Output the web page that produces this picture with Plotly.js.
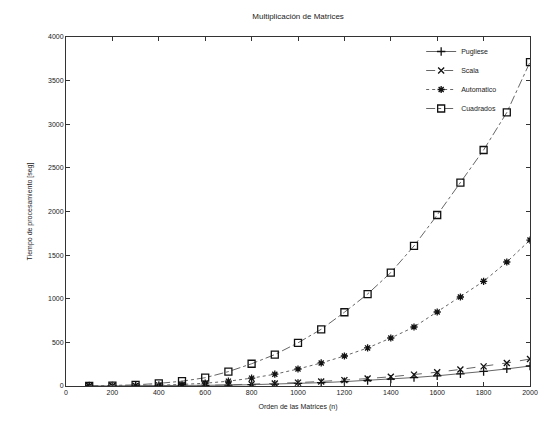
<!DOCTYPE html>
<html>
<head>
<meta charset="utf-8">
<script src="https://cdn.plot.ly/plotly-3.0.1.min.js"></script>
<style>html,body{margin:0;padding:0;background:#fff;}#chart{width:541px;height:421px;}</style>
</head>
<body>
<div id="chart"></div>
<script>
const orden = [100,200,300,400,500,600,700,800,900,1000,1100,1200,1300,1400,1500,1600,1700,1800,1900,2000];
const pugliese = [0.03,0.2,0.8,1.9,3.7,6,10,15,21,29,38,50,63,79,97,117,140,167,196,229];
const scala = [0.04,0.3,1,2.5,5,8,13,20,28,39,52,67,85,106,130,158,190,225,264,309];
const automatico = [0.2,1.5,4,10,18,32,55,90,135,195,264,344,436,550,676,848,1020,1200,1421,1673];
const cuadrados = [0.5,4,13,30,55,95,165,255,360,495,650,845,1054,1300,1605,1960,2330,2705,3135,3713];
const nombres = ["Pugliese","Scala","Automatico","Cuadrados"];
const xTicks = [0,200,400,600,800,1000,1200,1400,1600,1800,2000];
const yTicks = [0,500,1000,1500,2000,2500,3000,3500,4000];

const series = [pugliese, scala, automatico, cuadrados];
const symbols = ["cross-thin-open","x-thin-open","asterisk-open","square-open"];
const dashes = ["solid","dash","dot","dashdot"];
const traces = series.map((ys,i)=>({
  x: orden, y: ys, name: nombres[i], type:"scatter", mode:"lines+markers",
  line:{color:"#666", width:1, dash:dashes[i]},
  marker:{symbol:symbols[i], size:i===3?7:6, color:"#111", line:{color:"#111", width:1.3}}
}));

const fnt = {family:"Liberation Sans, Arial, sans-serif", size:7, color:"#222"};
const layout = {
  width:541, height:421,
  margin:{l:66, r:11, t:37, b:35},
  paper_bgcolor:"#fff", plot_bgcolor:"#fff",
  font: fnt,
  title:{text:"Multiplicación de Matrices", font:{family:fnt.family, size:8, color:"#222"}, x:0.551, xanchor:"center", y:0.962, yanchor:"middle"},
  xaxis:{range:[0,2000], tickvals:xTicks, ticktext:xTicks.map(String), ticks:"inside", ticklen:4, tickcolor:"#333",
    showline:true, linecolor:"#333", linewidth:1, mirror:"ticks", showgrid:false, zeroline:false,
    tickfont:fnt, title:{text:"Orden de las Matrices (n)", font:fnt, standoff:8}},
  yaxis:{range:[0,4000], tickvals:yTicks, ticktext:yTicks.map(String), ticks:"inside", ticklen:4, tickcolor:"#333",
    showline:true, linecolor:"#333", linewidth:1, mirror:"ticks", showgrid:false, zeroline:false,
    tickfont:fnt, title:{text:"Tiempo de procesamiento [seg]", font:fnt, standoff:14}},
  legend:{x:0.94, y:1.0, xanchor:"right", yanchor:"top", bgcolor:"rgba(0,0,0,0)", font:fnt,
    tracegroupgap:0, itemwidth:30},
  showlegend:true
};
Plotly.newPlot("chart", traces, layout, {displayModeBar:false, staticPlot:true});
</script>
</body>
</html>
